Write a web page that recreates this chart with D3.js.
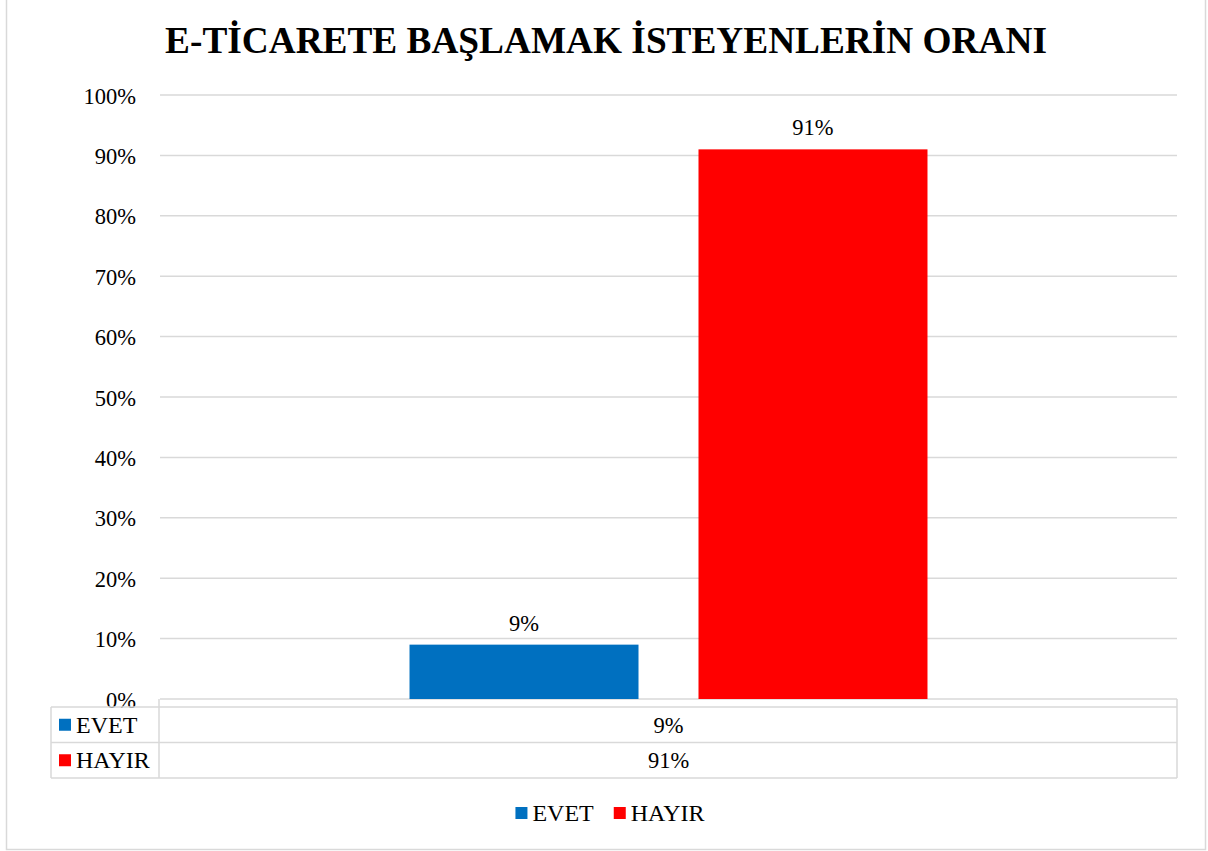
<!DOCTYPE html>
<html>
<head>
<meta charset="utf-8">
<script src="https://cdn.jsdelivr.net/npm/d3@7"></script>
<style>
  html, body { margin: 0; padding: 0; background: #fff; }
  svg { display: block; font-family: "Liberation Serif", "Times New Roman", serif; }
  svg text { font-family: "Liberation Serif", "Times New Roman", serif; }
</style>
</head>
<body>
<svg id="chart" width="1208" height="851"></svg>
<script>
const title = "E-TİCARETE BAŞLAMAK İSTEYENLERİN ORANI";
const categories = [""];
const seriesNames = ["EVET", "HAYIR"];
const seriesValues = [0.09, 0.91];
const seriesColors = ["#0070C0", "#FF0000"];
const yTicks = [0, 0.1, 0.2, 0.3, 0.4, 0.5, 0.6, 0.7, 0.8, 0.9, 1.0];

const svg = d3.select("#chart");
const grid = "#d9d9d9";
const fs = 22.5;     // numbers
const fsName = 24;   // series names

const plot = { left: 160, right: 1177, top: 95, bottom: 699 };

// outer frame
svg.append("rect").attr("x", 6.5).attr("y", -2).attr("width", 1199).attr("height", 851.5)
  .attr("fill", "#fff").attr("stroke", grid).attr("stroke-width", 1.5);

// title
svg.append("text").attr("x", 606).attr("y", 53).attr("text-anchor", "middle")
  .attr("font-size", 37.3).attr("font-weight", "bold").attr("fill", "#000").text(title);

const y = d3.scaleLinear().domain([0, 1]).range([plot.bottom, plot.top]);
const x0 = d3.scaleBand().domain(categories).range([plot.left, plot.right]);
const x1 = d3.scaleBand().domain(seriesNames).range([0, x0.bandwidth()])
  .paddingInner(0.2076).paddingOuter(0.8634);

// gridlines
const yAxis = d3.axisLeft(y).tickValues(yTicks).tickFormat(d3.format(".0%")).tickSize(0).tickPadding(0);
const gAxis = svg.append("g").attr("transform", `translate(${plot.left},0)`);
gAxis.selectAll("line.grid").data(yTicks).enter().append("line")
  .attr("x1", 0).attr("x2", plot.right - plot.left)
  .attr("y1", d => y(d)).attr("y2", d => y(d))
  .attr("stroke", grid).attr("stroke-width", 1.5);
const ax = svg.append("g").attr("transform", `translate(136,0)`).call(yAxis);
ax.attr("font-family", null).attr("font-size", null);
ax.select(".domain").remove();
ax.selectAll("text").attr("font-size", fs)
  .attr("fill", "#000").attr("dy", null)
  .attr("y", 8).attr("x", 0);

// bars
const data = seriesNames.map((s, i) => ({ cat: categories[0], name: s, value: seriesValues[i], color: seriesColors[i] }));
const gBars = svg.append("g");
gBars.selectAll("rect").data(data).enter().append("rect")
  .attr("x", d => x0(d.cat) + x1(d.name))
  .attr("width", x1.bandwidth())
  .attr("y", d => y(d.value))
  .attr("height", d => y(0) - y(d.value))
  .attr("fill", d => d.color);
gBars.selectAll("text").data(data).enter().append("text")
  .attr("x", d => x0(d.cat) + x1(d.name) + x1.bandwidth() / 2)
  .attr("y", d => y(d.value) - 14)
  .attr("text-anchor", "middle").attr("font-size", fs).attr("fill", "#000")
  .text(d => d3.format(".0%")(d.value));

// data table
const tbl = { left: 51, colX: 159, right: 1177, top: 707, rowH: 35.5 };
const tg = svg.append("g").attr("fill", "none").attr("stroke", grid).attr("stroke-width", 1.5);
tg.append("line").attr("x1", tbl.colX).attr("x2", tbl.colX).attr("y1", plot.bottom).attr("y2", tbl.top + tbl.rowH * seriesNames.length);
tg.append("line").attr("x1", tbl.right).attr("x2", tbl.right).attr("y1", plot.bottom).attr("y2", tbl.top + tbl.rowH * seriesNames.length);
tg.append("line").attr("x1", tbl.left).attr("x2", tbl.left).attr("y1", tbl.top).attr("y2", tbl.top + tbl.rowH * seriesNames.length);
d3.range(seriesNames.length + 1).forEach(i => {
  tg.append("line").attr("x1", tbl.left).attr("x2", tbl.right)
    .attr("y1", tbl.top + i * tbl.rowH).attr("y2", tbl.top + i * tbl.rowH);
});
const rows = svg.append("g").selectAll("g").data(data).enter().append("g")
  .attr("transform", (d, i) => `translate(0,${tbl.top + i * tbl.rowH + tbl.rowH / 2})`);
rows.append("rect").attr("x", 59).attr("y", -6).attr("width", 12).attr("height", 12).attr("fill", d => d.color);
rows.append("text").attr("x", 76).attr("y", 8).attr("font-size", fsName).attr("fill", "#000").text(d => d.name);
rows.append("text").attr("x", x0(categories[0]) + x0.bandwidth() / 2).attr("y", 8)
  .attr("text-anchor", "middle").attr("font-size", fs).attr("fill", "#000")
  .text(d => d3.format(".0%")(d.value));

// bottom legend
const lg = svg.append("g").attr("transform", "translate(0,813)");
const items = lg.selectAll("g").data(data).enter().append("g");
items.append("rect").attr("x", 0).attr("y", -6).attr("width", 12).attr("height", 12).attr("fill", d => d.color);
items.append("text").attr("x", 17).attr("y", 8).attr("font-size", fsName).attr("fill", "#000").text(d => d.name);
const widths = [];
items.each(function () { widths.push(17 + this.querySelector("text").getComputedTextLength()); });
const gap = 20;
const total = d3.sum(widths) + gap * (widths.length - 1);
let startX = 610 - total / 2;
items.attr("transform", (d, i) => {
  const t = `translate(${startX},0)`;
  startX += widths[i] + gap;
  return t;
});
</script>
</body>
</html>
